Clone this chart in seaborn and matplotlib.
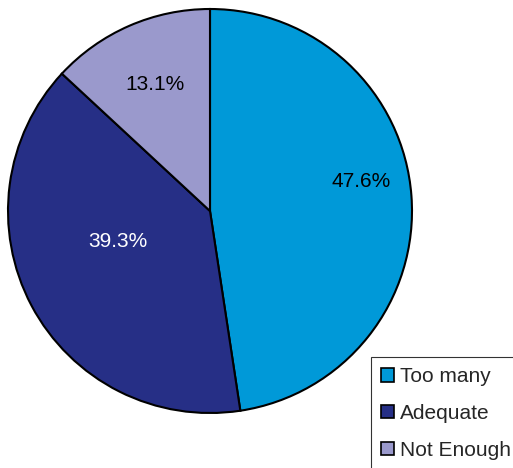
import numpy as np
import matplotlib
matplotlib.use("Agg")
import matplotlib.pyplot as plt
import seaborn as sns

# data
categories = ["Too many", "Adequate", "Not Enough"]
shares = [47.6, 39.3, 13.1]
colors = ["#0099D8", "#262F86", "#9A99CC"]
label_colors = ["black", "white", "black"]

sns.set_style("white")
plt.rcParams["font.family"] = ["Liberation Sans", "DejaVu Sans"]

W, H = 513, 468
fig = plt.figure(figsize=(W / 100, H / 100), dpi=100)
ax = fig.add_axes([0, 0, 1, 1])

cx, cy, r = 210, H - 211, 202
wedges, texts, autotexts = ax.pie(
    shares,
    colors=sns.color_palette(colors),
    startangle=90,
    counterclock=False,
    center=(cx, cy),
    radius=r,
    autopct="%.1f%%",
    pctdistance=0.7,
    wedgeprops=dict(edgecolor="black", linewidth=1.5),
    textprops=dict(fontsize=15),
    frame=True,
)
ax.set_xlim(0, W)
ax.set_ylim(0, H)
ax.set_aspect("equal")
ax.axis("off")

# nudge percentage labels to where the original puts them
label_pos = [(0.76, 11), (0.48, 198.6), (0.68, 113.4)]
for t, c, (d, a) in zip(autotexts, label_colors, label_pos):
    t.set_color(c)
    t.set_position((cx + d * r * np.cos(np.radians(a)), cy + d * r * np.sin(np.radians(a))))

leg = ax.legend(
    wedges, categories,
    loc="upper left",
    bbox_to_anchor=(371 / W, 1 - 357 / H),
    bbox_transform=fig.transFigure,
    fontsize=15,
    frameon=True,
    fancybox=False,
    edgecolor="black",
    handlelength=0.6,
    handleheight=0.6,
    handletextpad=0.3,
    labelspacing=0.85,
    borderpad=0.5,
    borderaxespad=0,
)
leg.get_frame().set_linewidth(0.8)
for h in leg.legend_handles:
    h.set_linewidth(1.2)

fig.savefig("out.png", dpi=100)
